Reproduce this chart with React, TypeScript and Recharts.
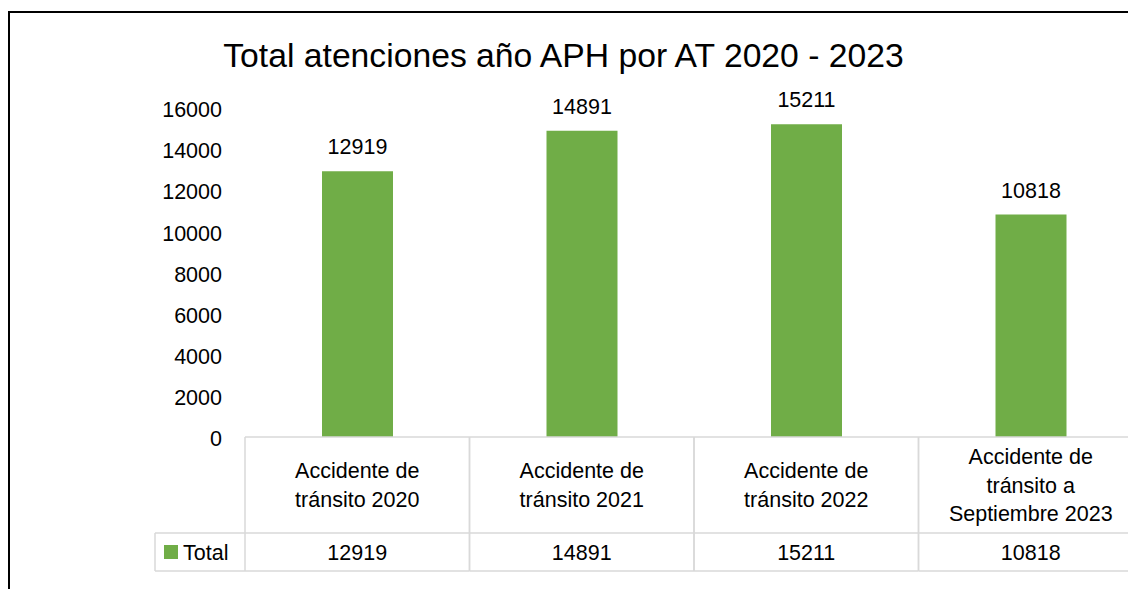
import { BarChart, Bar, XAxis, YAxis, LabelList } from "recharts"

const categories = [
  "Accidente de\ntránsito 2020",
  "Accidente de\ntránsito 2021",
  "Accidente de\ntránsito 2022",
  "Accidente de\ntránsito a\nSeptiembre 2023",
]
const totals = [12919, 14891, 15211, 10818]
const yTicks = [0, 2000, 4000, 6000, 8000, 10000, 12000, 14000, 16000]
const seriesName = "Total"
const title = "Total atenciones año APH por AT 2020 - 2023"

const FONT = '"Liberation Sans", Arial, sans-serif'
const GREEN = "#70AD47"
const GRID = "#d9d9d9"
const FS = 21.5
const CAP = FS * 0.355
const HEADER_H = 96
const VALUE_H = 38
const LINE_H = 28.5
const LEGEND_W = 90

const data = categories.map((c, i) => ({ category: c, total: totals[i] }))

// draws one column of the data table under the plot (plus the legend cell for the first one)
function TableTick(props: any) {
  const { x, y, payload } = props
  const i = payload?.index ?? props.index ?? 0
  const half = payload?.offset || 112.25
  const lines = String(payload.value).split("\n")
  const left = x - half
  const right = x + half
  const headerMid = y + HEADER_H / 2
  const firstBase = headerMid - ((lines.length - 1) / 2) * LINE_H + CAP
  const valueMid = y + HEADER_H + VALUE_H / 2
  const bottom = y + HEADER_H + VALUE_H
  const textStyle = { fontFamily: FONT, fontSize: FS, fill: "#000" }
  return (
    <g>
      <line x1={left} y1={y} x2={left} y2={bottom} stroke={GRID} strokeWidth={1.5} />
      <line x1={right} y1={y} x2={right} y2={bottom} stroke={GRID} strokeWidth={1.5} />
      <line x1={left} y1={y + HEADER_H} x2={right} y2={y + HEADER_H} stroke={GRID} strokeWidth={1.5} />
      <line x1={left} y1={bottom} x2={right} y2={bottom} stroke={GRID} strokeWidth={1.5} />
      <text textAnchor="middle" style={textStyle}>
        {lines.map((l, k) => (
          <tspan key={k} x={x} y={firstBase + k * LINE_H}>
            {l}
          </tspan>
        ))}
      </text>
      <text x={x} y={valueMid + CAP} textAnchor="middle" style={textStyle}>
        {totals[i]}
      </text>
      {i === 0 && (
        <g>
          <line x1={left - LEGEND_W} y1={y + HEADER_H} x2={left} y2={y + HEADER_H} stroke={GRID} strokeWidth={1.5} />
          <line x1={left - LEGEND_W} y1={bottom} x2={left} y2={bottom} stroke={GRID} strokeWidth={1.5} />
          <line x1={left - LEGEND_W} y1={y + HEADER_H} x2={left - LEGEND_W} y2={bottom} stroke={GRID} strokeWidth={1.5} />
          <rect x={left - LEGEND_W + 9} y={valueMid - 7} width={14} height={14} fill={GREEN} />
          <text x={left - LEGEND_W + 28} y={valueMid + CAP} style={textStyle}>
            {seriesName}
          </text>
        </g>
      )}
    </g>
  )
}

export default function App() {
  return (
    <div
      style={{
        position: "fixed",
        left: 0,
        top: 0,
        width: 1128,
        height: 589,
        overflow: "hidden",
        background: "#fff",
      }}
    >
      <div
        style={{
          position: "absolute",
          left: 8,
          top: 11,
          width: 1300,
          height: 800,
          border: "2.5px solid #000",
          boxSizing: "border-box",
        }}
      />
      <div
        style={{
          position: "absolute",
          left: 0,
          top: 39,
          width: 1127,
          textAlign: "center",
          fontFamily: FONT,
          fontSize: 33.7,
          lineHeight: "33px",
          color: "#000",
          whiteSpace: "nowrap",
        }}
      >
        {title}
      </div>
      <div style={{ position: "absolute", left: 0, top: 0 }}>
        <BarChart
          width={1160}
          height={589}
          data={data}
          margin={{ top: 108, right: 17, left: 0, bottom: 12 }}
        >
          <XAxis
            dataKey="category"
            height={140}
            interval={0}
            tickSize={0}
            tickMargin={0}
            tickLine={false}
            axisLine={{ stroke: GRID, strokeWidth: 1.5 }}
            tick={(p: any) => <TableTick {...p} />}
          />
          <YAxis
            width={245}
            domain={[0, 16000]}
            ticks={yTicks}
            interval={0}
            axisLine={false}
            tickLine={false}
            tickSize={0}
            tickMargin={23}
            tick={{ fontFamily: FONT, fontSize: FS, fill: "#000", dy: 1.5 }}
          />
          <Bar dataKey="total" fill={GREEN} barSize={71} isAnimationActive={false}>
            <LabelList
              dataKey="total"
              position="top"
              offset={17}
              style={{ fontFamily: FONT, fontSize: FS, fill: "#000" }}
            />
          </Bar>
        </BarChart>
      </div>
    </div>
  )
}
